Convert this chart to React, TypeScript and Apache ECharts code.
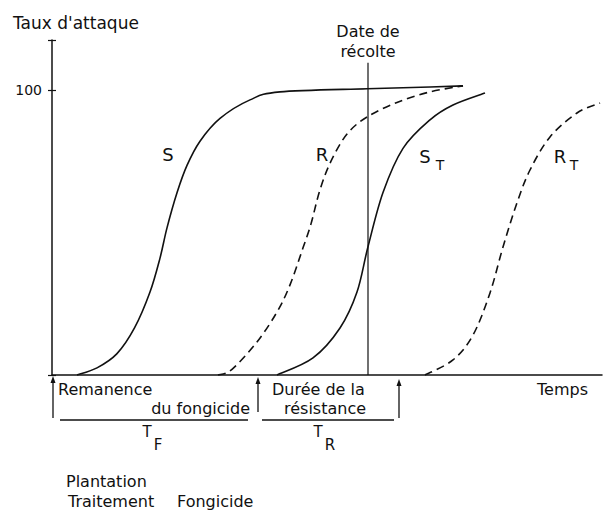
import React, { useEffect, useRef } from "react";
import * as echarts from "echarts";

// Time (arbitrary units) vs attack rate (%)
const curveS: [number, number][] = [
  [5, 0], [9, 2.5], [13, 7.5], [16.5, 16.5], [19.6, 29.1], [21.6, 41], [23, 51.6],
  [25, 63.9], [27, 73.5], [29.6, 82], [33.6, 90], [39.6, 96.5], [45.6, 99.3],
  [63, 100.4], [75.6, 101], [82.2, 101.4],
];
const curveR: [number, number][] = [
  [33.2, 0], [36, 2], [41, 11.6], [45, 22.1], [47.6, 31.6], [50.2, 44.6], [51.8, 53],
  [53.6, 65], [55.8, 75], [59, 84.5], [63, 90.5], [69, 95.6], [75.6, 99.3], [82.2, 101.4],
];
const curveST: [number, number][] = [
  [45, 0], [52.2, 6], [57.6, 16.5], [61, 29.1], [63.2, 45], [66.2, 64], [70.2, 79.5],
  [75.6, 89.5], [80.2, 94.7], [86.6, 98.9],
];
const curveRT: [number, number][] = [
  [74.6, 0], [80.2, 5.3], [84.2, 14], [87.6, 28.8], [90.2, 44.9], [93, 60.4], [95.6, 71.9],
  [99.6, 83.5], [105, 91.9], [109.6, 95.4],
];
const harvestDate = 63.2;
const harvestTop = 109.5;
const yTickLabels = [100];
const xMax = 110;
const yMax = 117.5;

const FONT = "DejaVu Sans";
const INK = "#111";

function txt(text: string, x: number, baseline: number, size = 16, align = "left") {
  return {
    type: "text",
    x,
    y: baseline - size * 0.32,
    style: {
      text,
      fontSize: size,
      fontFamily: FONT,
      fill: INK,
      align,
      verticalAlign: "middle",
    },
  };
}

function seg(x1: number, y1: number, x2: number, y2: number, w = 1.4) {
  return { type: "line", shape: { x1, y1, x2, y2 }, style: { stroke: INK, lineWidth: w } };
}

function arrowUp(x: number, yBottom: number, yTop: number) {
  return [
    seg(x, yBottom, x, yTop + 5, 1.3),
    {
      type: "polygon",
      shape: { points: [[x, yTop], [x - 2.5, yTop + 7], [x + 2.5, yTop + 7]] },
      style: { fill: INK },
    },
  ];
}

// Smooth curve through the data points (Catmull-Rom drawn as cubic Béziers),
// positioned with the chart's own axes via api.coord.
function splineSeries(name: string, data: [number, number][], dashed: boolean) {
  return {
    name,
    type: "custom",
    coordinateSystem: "cartesian2d",
    data,
    renderItem: (params: any, api: any) => {
      if (params.dataIndex !== 0) return null;
      const p = data.map((d) => api.coord(d) as number[]);
      const n = p.length;
      let d = `M${p[0][0]},${p[0][1]}`;
      for (let i = 0; i < n - 1; i++) {
        const p0 = p[i - 1] || p[i];
        const p1 = p[i];
        const p2 = p[i + 1];
        const p3 = p[i + 2] || p[i + 1];
        const c1x = p1[0] + (p2[0] - p0[0]) / 6;
        const c1y = p1[1] + (p2[1] - p0[1]) / 6;
        const c2x = p2[0] - (p3[0] - p1[0]) / 6;
        const c2y = p2[1] - (p3[1] - p1[1]) / 6;
        d += ` C${c1x},${c1y} ${c2x},${c2y} ${p2[0]},${p2[1]}`;
      }
      return {
        type: "path",
        shape: { pathData: d },
        style: {
          stroke: INK,
          fill: "none",
          lineWidth: 1.6,
          lineDash: dashed ? [8, 5] : null,
        },
      };
    },
  };
}

export default function App() {
  const ref = useRef<HTMLDivElement>(null);
  useEffect(() => {
    const chart = echarts.init(ref.current!, null, { renderer: "svg" });
    chart.setOption({
      animation: false,
      grid: { left: 52, top: 40, width: 550, height: 335 },
      xAxis: {
        type: "value",
        min: 0,
        max: xMax,
        axisLine: { show: true, lineStyle: { color: INK, width: 1.5 } },
        axisTick: { show: false },
        axisLabel: { show: false },
        splitLine: { show: false },
      },
      yAxis: [
        {
          type: "value",
          min: 0,
          max: yMax,
          interval: 100,
          axisLine: { show: true, lineStyle: { color: INK, width: 1.5 } },
          axisTick: { show: true, length: 4, lineStyle: { color: INK, width: 1.2 } },
          axisLabel: {
            margin: 10,
            fontSize: 14,
            fontFamily: FONT,
            color: INK,
            formatter: (v: number) => (yTickLabels.includes(v) ? String(v) : ""),
          },
          splitLine: { show: false },
        },
        {
          type: "value",
          position: "left",
          min: 0,
          max: yMax,
          interval: 100,
          axisLine: { show: false },
          axisTick: { show: true, inside: true, length: 4, lineStyle: { color: INK, width: 1.2 } },
          axisLabel: { show: false },
          splitLine: { show: false },
        },
      ],
      series: [
        splineSeries("S", curveS, false),
        splineSeries("R", curveR, true),
        splineSeries("ST", curveST, false),
        splineSeries("RT", curveRT, true),
        {
          name: "Date de récolte",
          type: "line",
          data: [[harvestDate, 0], [harvestDate, harvestTop]],
          symbol: "none",
          lineStyle: { color: INK, width: 1.2 },
        },
      ],
      graphic: [
        txt("Taux d'attaque", 13, 28, 17),
        txt("Date de", 368, 37, 16, "center"),
        txt("récolte", 368, 57, 16, "center"),
        txt("S", 168, 160, 18, "center"),
        txt("R", 322, 160, 18, "center"),
        txt("S", 425, 162, 18, "center"),
        txt("T", 440, 169, 14, "center"),
        txt("R", 560, 162, 18, "center"),
        txt("T", 574, 169, 14, "center"),
        txt("Temps", 537, 395, 16),
        txt("Remanence", 58, 395, 16),
        txt("du fongicide", 250, 414, 16, "right"),
        txt("Durée de la", 272, 395, 16),
        txt("résistance", 325, 414, 16, "center"),
        seg(60, 420, 248, 420, 1.4),
        seg(262, 420, 394, 420, 1.4),
        ...arrowUp(53, 418, 376),
        ...arrowUp(258, 412, 377),
        ...arrowUp(399, 418, 379),
        txt("T", 147, 437, 15, "center"),
        txt("F", 158, 450, 15, "center"),
        txt("T", 318, 437, 15, "center"),
        txt("R", 330, 450, 15, "center"),
        txt("Plantation", 66, 487, 16),
        txt("Traitement", 68, 507, 16),
        txt("Fongicide", 177, 507, 16),
      ],
    });
    return () => chart.dispose();
  }, []);
  return (
    <div
      ref={ref}
      style={{ position: "fixed", left: 0, top: 0, width: 605, height: 513, background: "#fff" }}
    />
  );
}
